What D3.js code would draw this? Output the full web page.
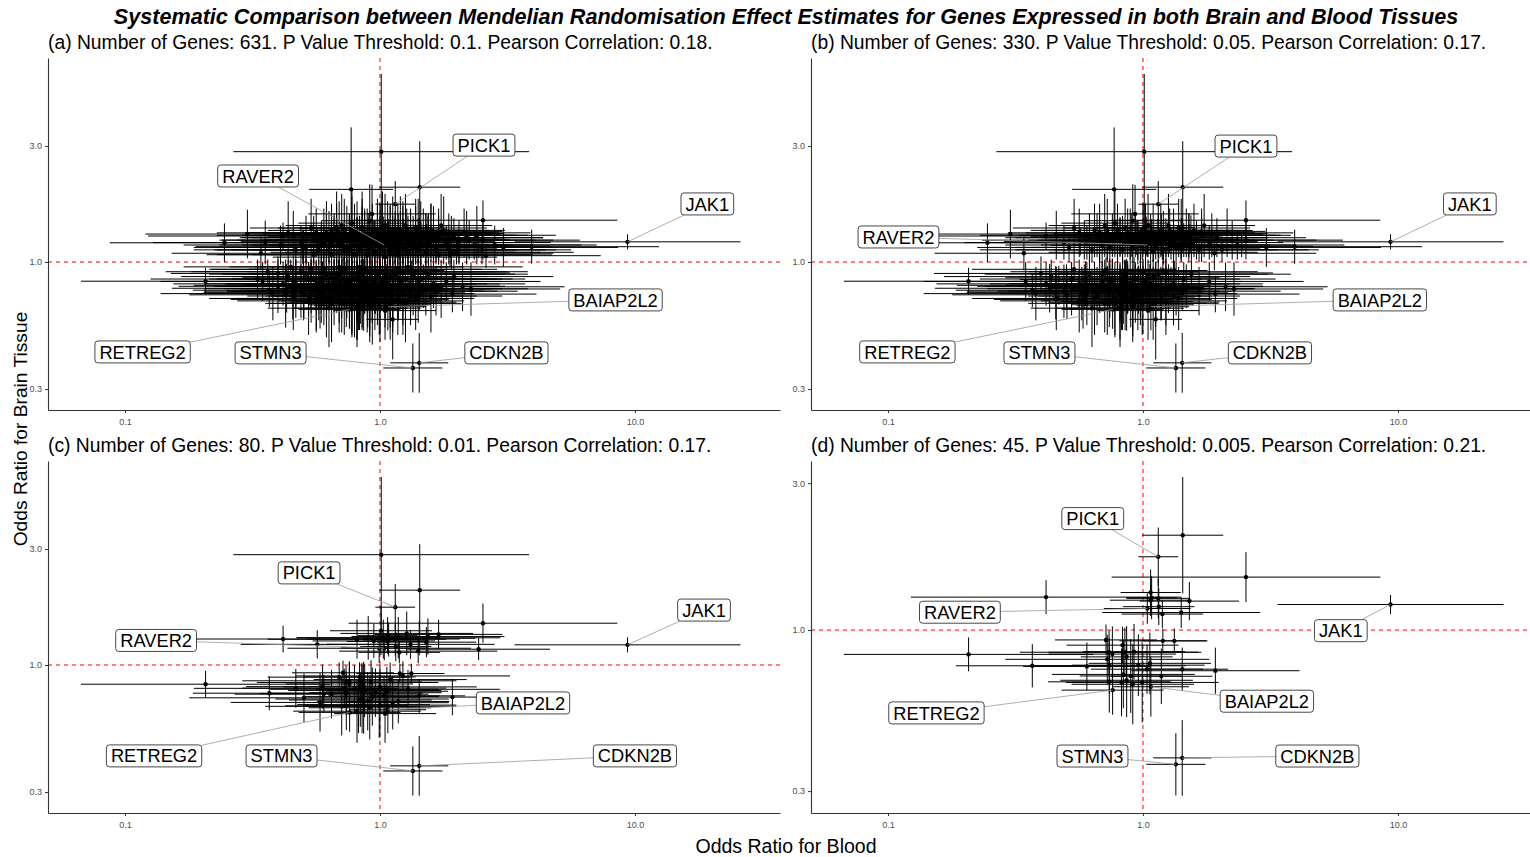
<!DOCTYPE html>
<html>
<head>
<meta charset="utf-8">
<script src="https://cdnjs.cloudflare.com/ajax/libs/d3/7.8.5/d3.min.js"></script>
<style>
  body { margin: 0; background: #fff; }
  svg { display: block; font-family: "Liberation Sans", Arial, sans-serif; }
</style>
</head>
<body>
<div id="chart"></div>
<script>
// values, as log10 odds ratios
// each row: [blood, brain, blood CI half-width, brain CI half-width]

const labelGenes = ['PICK1', 'RAVER2', 'JAK1', 'BAIAP2L2', 'RETREG2', 'STMN3', 'CDKN2B'];
const labelledValues = [
    [0.060, 0.238, 0.078, 0.095],
    [0.017, 0.070, 0.170, 0.050],
    [0.971, 0.083, 0.443, 0.031],
    [0.031, -0.184, 0.150, 0.097],
    [-0.119, -0.195, 0.200, 0.080],
    [0.129, -0.436, 0.116, 0.101],
    [0.154, -0.415, 0.114, 0.123]
];

// label box centres (log10 units) for each panel
const labelSpotA = [[0.408, 0.481], [-0.478, 0.354], [1.284, 0.239], [0.924, -0.156], [-0.931, -0.370], [-0.429, -0.374], [0.496, -0.374]];
const labelSpotB = [[0.404, 0.477], [-0.959, 0.103], [1.282, 0.239], [0.929, -0.156], [-0.924, -0.370], [-0.406, -0.374], [0.498, -0.374]];
const labelSpotC = [[-0.278, 0.379], [-0.878, 0.101], [1.271, 0.226], [0.561, -0.156], [-0.886, -0.374], [-0.386, -0.374], [1.000, -0.374]];
const labelSpotD = [[-0.197, 0.362], [-0.718, 0.058], [0.776, -0.002], [0.486, -0.231], [-0.810, -0.269], [-0.198, -0.409], [0.684, -0.409]];

// genes passing p < 0.005 (in every panel)
const genesP005 = [
    [0.156, 0.308, 0.159, 0.189], [0.404, 0.172, 0.527, 0.081], [-0.380, 0.107, 0.530, 0.055],
    [0.182, 0.094, 0.195, 0.062], [0.030, 0.122, 0.118, 0.075], [0.034, 0.105, 0.100, 0.070],
    [0.060, 0.103, 0.125, 0.065], [0.030, 0.097, 0.160, 0.050], [0.062, 0.076, 0.140, 0.060],
    [0.076, 0.052, 0.160, 0.045], [0.150, 0.057, 0.310, 0.050],
    [-0.684, -0.079, 0.489, 0.055], [-0.434, -0.116, 0.300, 0.070], [-0.220, -0.118, 0.250, 0.078],
    [-0.145, -0.032, 0.200, 0.050], [0.078, -0.035, 0.170, 0.040], [0.123, -0.035, 0.130, 0.040],
    [-0.080, -0.049, 0.220, 0.060], [-0.133, -0.072, 0.350, 0.070], [-0.120, -0.078, 0.250, 0.090],
    [-0.071, -0.072, 0.300, 0.080], [-0.064, -0.087, 0.180, 0.100], [-0.035, -0.070, 0.200, 0.090],
    [-0.140, -0.095, 0.400, 0.080], [0.027, -0.108, 0.240, 0.100], [-0.018, -0.114, 0.260, 0.100],
    [-0.132, -0.116, 0.300, 0.090], [0.016, -0.127, 0.220, 0.080], [0.154, -0.127, 0.180, 0.070],
    [0.284, -0.132, 0.330, 0.075], [-0.077, -0.144, 0.280, 0.110], [-0.048, -0.149, 0.200, 0.120],
    [0.072, -0.150, 0.200, 0.090], [-0.064, -0.163, 0.260, 0.120], [-0.132, -0.168, 0.240, 0.100],
    [-0.084, -0.170, 0.200, 0.110], [-0.040, -0.176, 0.240, 0.130], [-0.003, -0.170, 0.300, 0.130]
];

// extra genes reaching p < 0.01
const genesP01 = [
    [0.005, 0.454, 0.580, 0.320], [-0.246, 0.085, 0.300, 0.058], [0.387, 0.065, 0.280, 0.045],
    [-0.090, 0.106, 0.350, 0.080], [-0.046, 0.112, 0.280, 0.090], [-0.024, 0.099, 0.240, 0.070],
    [0.004, 0.141, 0.200, 0.100], [0.013, 0.107, 0.300, 0.080], [0.105, 0.130, 0.260, 0.090],
    [0.154, 0.110, 0.220, 0.070], [0.188, 0.117, 0.300, 0.075], [0.230, 0.126, 0.250, 0.060],
    [-0.003, 0.069, 0.360, 0.060], [0.072, 0.112, 0.400, 0.085], [0.120, 0.085, 0.330, 0.060],
    [-0.330, -0.096, 0.400, 0.080], [-0.298, -0.135, 0.450, 0.100], [-0.235, -0.154, 0.350, 0.120],
    [-0.225, -0.089, 0.300, 0.090], [-0.160, -0.050, 0.280, 0.060], [-0.120, -0.065, 0.420, 0.080],
    [-0.100, -0.100, 0.330, 0.100], [-0.060, -0.105, 0.300, 0.110], [-0.030, -0.130, 0.260, 0.120],
    [0.000, -0.090, 0.380, 0.090], [0.040, -0.060, 0.300, 0.070], [0.110, -0.100, 0.360, 0.080],
    [0.050, -0.155, 0.220, 0.110], [-0.150, -0.170, 0.300, 0.120], [-0.090, -0.190, 0.250, 0.130],
    [0.020, -0.200, 0.200, 0.120], [0.090, -0.045, 0.420, 0.060], [-0.190, -0.120, 0.380, 0.100],
    [-0.070, -0.140, 0.340, 0.140], [0.000, -0.165, 0.300, 0.130]
];

// extra genes reaching p < 0.05
const genesP05 = [
    [-0.113, 0.299, 0.165, 0.255], [-0.520, 0.115, 0.400, 0.100], [-0.610, 0.079, 0.450, 0.080],
    [-0.467, 0.036, 0.350, 0.070], [0.484, 0.060, 0.450, 0.080], [0.595, 0.063, 0.500, 0.070],
    [0.404, 0.090, 0.380, 0.080], [0.280, 0.036, 0.400, 0.070], [-0.031, 0.198, 0.250, 0.120],
    [-0.400, -0.047, 0.420, 0.070], [-0.366, -0.108, 0.450, 0.100], [-0.342, -0.126, 0.350, 0.110],
    [0.050, -0.236, 0.103, 0.165], [0.324, -0.102, 0.400, 0.100], [0.357, -0.111, 0.350, 0.110],
    [-0.14, 0.09, 0.31, 0.08], [0.07, 0.13, 0.27, 0.11], [-0.29, 0.06, 0.36, 0.06], [0.18, 0.11, 0.34, 0.09],
    [0.02, 0.15, 0.22, 0.13], [-0.08, 0.05, 0.42, 0.05], [0.26, 0.08, 0.29, 0.07], [-0.19, 0.13, 0.25, 0.11],
    [0.11, 0.07, 0.39, 0.06], [-0.03, 0.11, 0.33, 0.09], [0.33, 0.12, 0.26, 0.10], [-0.23, 0.09, 0.40, 0.08],
    [0.05, 0.06, 0.35, 0.05], [-0.11, 0.16, 0.21, 0.14], [0.14, 0.14, 0.28, 0.12], [-0.05, 0.08, 0.37, 0.07],
    [0.22, 0.05, 0.43, 0.05], [-0.34, 0.11, 0.30, 0.10], [0.09, 0.10, 0.31, 0.08], [-0.16, 0.07, 0.38, 0.06],
    [0.00, 0.13, 0.26, 0.11], [0.29, 0.10, 0.35, 0.08], [-0.07, 0.14, 0.24, 0.12], [0.16, 0.09, 0.32, 0.07],
    [-0.25, 0.12, 0.28, 0.10], [0.04, 0.04, 0.41, 0.04], [-0.12, 0.11, 0.34, 0.09], [0.20, 0.13, 0.23, 0.11],
    [-0.01, 0.07, 0.39, 0.07], [0.37, 0.07, 0.42, 0.06], [-0.20, 0.05, 0.44, 0.05], [0.12, 0.12, 0.29, 0.10],
    [-0.09, 0.10, 0.30, 0.08], [0.24, 0.15, 0.20, 0.13], [-0.04, 0.17, 0.19, 0.15], [0.08, 0.08, 0.36, 0.07],
    [-0.17, 0.10, 0.33, 0.09], [0.31, 0.05, 0.38, 0.05], [-0.02, 0.09, 0.35, 0.08], [0.13, 0.06, 0.40, 0.06],
    [-0.27, 0.14, 0.24, 0.12], [0.06, 0.11, 0.32, 0.09], [-0.13, 0.06, 0.37, 0.06], [0.19, 0.07, 0.41, 0.06],
    [0.01, 0.10, 0.30, 0.09], [-0.22, 0.08, 0.35, 0.07], [0.10, 0.15, 0.24, 0.13], [-0.06, 0.12, 0.29, 0.10],
    [0.27, 0.11, 0.31, 0.09], [0.03, 0.08, 0.38, 0.07], [-0.10, 0.13, 0.27, 0.11], [0.15, 0.10, 0.34, 0.08],
    [-0.31, 0.08, 0.39, 0.07], [0.21, 0.09, 0.30, 0.08], [-0.15, 0.15, 0.22, 0.13], [0.09, 0.05, 0.44, 0.05],
    [-0.04, 0.06, 0.40, 0.06], [0.35, 0.09, 0.33, 0.08], [-0.18, 0.11, 0.31, 0.09], [0.17, 0.12, 0.27, 0.10],
    [-0.10, 0.10, 0.30, 0.10], [0.04, 0.12, 0.28, 0.12], [-0.17, 0.12, 0.29, 0.12], [0.12, 0.09, 0.32, 0.10],
    [-0.05, 0.11, 0.31, 0.11], [0.08, 0.10, 0.27, 0.11], [-0.21, 0.10, 0.33, 0.10], [0.18, 0.10, 0.30, 0.10],
    [-0.02, 0.08, 0.34, 0.09], [0.01, 0.12, 0.29, 0.12], [-0.14, 0.13, 0.26, 0.13], [0.23, 0.11, 0.31, 0.11],
    [-0.08, 0.09, 0.33, 0.10], [0.06, 0.09, 0.36, 0.09], [0.15, 0.13, 0.27, 0.13],
    [-0.12, -0.08, 0.33, 0.09], [-0.31, -0.12, 0.38, 0.11], [0.05, -0.10, 0.30, 0.10], [-0.21, -0.05, 0.41, 0.06],
    [-0.02, -0.15, 0.26, 0.13], [0.16, -0.07, 0.36, 0.07], [-0.38, -0.09, 0.43, 0.09], [-0.09, -0.13, 0.29, 0.12],
    [0.09, -0.16, 0.24, 0.14], [-0.25, -0.16, 0.31, 0.13], [-0.15, -0.04, 0.37, 0.05], [0.02, -0.06, 0.40, 0.07],
    [-0.06, -0.11, 0.34, 0.10], [0.22, -0.12, 0.32, 0.10], [-0.28, -0.07, 0.36, 0.07], [-0.18, -0.14, 0.27, 0.12],
    [-0.04, -0.18, 0.22, 0.15], [0.12, -0.09, 0.35, 0.09], [-0.42, -0.13, 0.44, 0.11], [-0.11, -0.17, 0.25, 0.14],
    [0.07, -0.13, 0.28, 0.11], [-0.23, -0.10, 0.39, 0.09], [-0.07, -0.06, 0.42, 0.06], [0.26, -0.08, 0.37, 0.08],
    [-0.34, -0.15, 0.33, 0.13], [-0.01, -0.12, 0.31, 0.11], [-0.16, -0.08, 0.35, 0.08], [0.14, -0.15, 0.23, 0.13],
    [-0.20, -0.19, 0.24, 0.16], [0.00, -0.04, 0.45, 0.05], [-0.10, -0.10, 0.38, 0.09], [-0.27, -0.03, 0.40, 0.05],
    [0.04, -0.17, 0.21, 0.15], [-0.13, -0.12, 0.30, 0.11], [0.19, -0.05, 0.39, 0.06], [-0.36, -0.06, 0.42, 0.07],
    [-0.05, -0.09, 0.36, 0.09], [0.10, -0.11, 0.33, 0.10], [-0.19, -0.12, 0.34, 0.10], [-0.08, -0.15, 0.27, 0.13],
    [0.01, -0.08, 0.38, 0.08], [-0.30, -0.10, 0.35, 0.09], [-0.14, -0.16, 0.26, 0.14], [0.17, -0.10, 0.30, 0.09],
    [-0.03, -0.07, 0.41, 0.07], [-0.24, -0.13, 0.32, 0.11], [0.06, -0.05, 0.43, 0.06], [-0.46, -0.08, 0.40, 0.08],
    [-0.09, -0.19, 0.20, 0.16], [0.12, -0.14, 0.26, 0.12],
    [-0.09, -0.12, 0.30, 0.12], [-0.17, -0.10, 0.32, 0.11], [0.03, -0.09, 0.31, 0.10], [-0.22, -0.13, 0.29, 0.13],
    [-0.04, -0.14, 0.27, 0.14], [-0.13, -0.09, 0.34, 0.10], [0.09, -0.13, 0.28, 0.13], [-0.28, -0.11, 0.33, 0.11],
    [-0.07, -0.08, 0.36, 0.09], [-0.19, -0.15, 0.26, 0.15], [0.13, -0.11, 0.31, 0.11], [-0.01, -0.13, 0.29, 0.13],
    [-0.11, -0.15, 0.27, 0.15], [-0.25, -0.09, 0.35, 0.10], [0.05, -0.12, 0.30, 0.12]
];

// extra genes reaching p < 0.1
const genesP1 = [
    [0.416, 0.026, 0.45, 0.05], [0.275, 0.029, 0.40, 0.05], [-0.303, 0.063, 0.42, 0.07],
    [-0.05, 0.03, 0.38, 0.04], [0.11, 0.04, 0.42, 0.05], [-0.19, 0.03, 0.45, 0.04], [0.23, 0.03, 0.37, 0.04],
    [0.02, 0.02, 0.44, 0.03], [-0.33, 0.05, 0.40, 0.06], [0.30, 0.04, 0.46, 0.05], [-0.12, 0.05, 0.36, 0.06],
    [0.07, 0.03, 0.34, 0.04], [-0.26, 0.03, 0.42, 0.04], [0.15, 0.05, 0.39, 0.06], [-0.02, 0.04, 0.41, 0.05],
    [0.40, 0.05, 0.35, 0.06], [-0.39, 0.07, 0.38, 0.08], [0.04, 0.07, 0.33, 0.08], [-0.08, 0.09, 0.36, 0.10],
    [0.19, 0.08, 0.32, 0.09], [-0.16, 0.12, 0.30, 0.13], [0.12, 0.10, 0.35, 0.11], [-0.23, 0.07, 0.40, 0.08],
    [0.27, 0.06, 0.41, 0.07], [-0.01, 0.11, 0.29, 0.12], [0.08, 0.13, 0.26, 0.14], [-0.11, 0.08, 0.39, 0.09],
    [0.34, 0.10, 0.30, 0.11], [-0.29, 0.09, 0.33, 0.10], [0.00, 0.06, 0.43, 0.07], [0.21, 0.11, 0.27, 0.12],
    [-0.07, 0.14, 0.25, 0.15], [0.14, 0.07, 0.38, 0.08], [-0.20, 0.10, 0.35, 0.11], [0.05, 0.09, 0.37, 0.10],
    [-0.14, 0.05, 0.44, 0.06], [0.25, 0.13, 0.24, 0.14], [-0.04, 0.10, 0.32, 0.11], [0.10, 0.06, 0.40, 0.07],
    [-0.36, 0.12, 0.28, 0.13], [0.18, 0.04, 0.45, 0.05], [-0.09, 0.12, 0.31, 0.13], [0.03, 0.12, 0.28, 0.13],
    [-0.24, 0.05, 0.41, 0.06], [0.31, 0.08, 0.36, 0.09], [-0.17, 0.14, 0.23, 0.15], [0.06, 0.05, 0.42, 0.06],
    [-0.06, 0.07, 0.37, 0.08], [0.16, 0.12, 0.29, 0.13], [-0.30, 0.06, 0.43, 0.07], [0.38, 0.11, 0.31, 0.12],
    [-0.10, 0.03, 0.40, 0.04], [0.09, 0.11, 0.33, 0.12], [-0.21, 0.12, 0.30, 0.13], [0.01, 0.14, 0.24, 0.15],
    [0.22, 0.06, 0.39, 0.07], [-0.45, 0.08, 0.44, 0.09], [0.45, 0.07, 0.40, 0.08],
    [-0.18, 0.09, 0.28, 0.10], [0.06, 0.10, 0.30, 0.11], [-0.03, 0.12, 0.26, 0.12], [0.13, 0.09, 0.33, 0.10],
    [-0.09, 0.07, 0.35, 0.08], [0.02, 0.08, 0.29, 0.09], [-0.13, 0.11, 0.27, 0.12], [0.19, 0.10, 0.31, 0.10],
    [-0.06, 0.10, 0.30, 0.11], [0.09, 0.12, 0.28, 0.13], [-0.22, 0.11, 0.32, 0.11], [0.00, 0.09, 0.34, 0.10],
    [0.16, 0.08, 0.30, 0.09], [-0.11, 0.13, 0.25, 0.14], [0.04, 0.11, 0.27, 0.12], [-0.15, 0.08, 0.36, 0.09],
    [0.11, 0.09, 0.29, 0.10], [-0.01, 0.13, 0.30, 0.13], [0.23, 0.09, 0.28, 0.10], [-0.07, 0.11, 0.33, 0.12],
    [0.07, 0.07, 0.37, 0.08], [-0.19, 0.07, 0.31, 0.08], [0.14, 0.11, 0.26, 0.12], [-0.04, 0.08, 0.32, 0.09],
    [0.01, 0.10, 0.25, 0.11], [-0.26, 0.09, 0.30, 0.10], [0.20, 0.12, 0.27, 0.12], [-0.12, 0.09, 0.34, 0.10],
    [0.05, 0.13, 0.30, 0.14], [0.28, 0.09, 0.33, 0.10],
    [-0.08, -0.02, 0.41, 0.03], [-0.22, -0.03, 0.44, 0.04], [0.07, -0.03, 0.39, 0.04], [-0.35, -0.02, 0.42, 0.03],
    [0.18, -0.04, 0.40, 0.05], [-0.14, -0.03, 0.37, 0.04], [-0.01, -0.05, 0.43, 0.06], [-0.29, -0.05, 0.38, 0.06],
    [0.11, -0.02, 0.45, 0.03], [-0.44, -0.04, 0.40, 0.05], [-0.05, -0.07, 0.35, 0.08], [-0.18, -0.08, 0.39, 0.09],
    [0.03, -0.09, 0.34, 0.10], [-0.33, -0.11, 0.36, 0.12], [0.15, -0.12, 0.31, 0.13], [-0.11, -0.14, 0.28, 0.15],
    [-0.26, -0.07, 0.41, 0.08], [0.08, -0.07, 0.38, 0.08], [-0.02, -0.10, 0.33, 0.11], [-0.40, -0.10, 0.39, 0.11],
    [-0.15, -0.11, 0.32, 0.12], [0.21, -0.09, 0.36, 0.10], [-0.07, -0.13, 0.30, 0.14], [-0.21, -0.15, 0.27, 0.16],
    [0.05, -0.14, 0.27, 0.15], [-0.31, -0.04, 0.43, 0.05], [0.13, -0.05, 0.40, 0.06], [-0.09, -0.05, 0.42, 0.06],
    [-0.24, -0.09, 0.37, 0.10], [0.00, -0.16, 0.24, 0.17], [-0.17, -0.06, 0.38, 0.07], [0.24, -0.11, 0.34, 0.12],
    [-0.12, -0.10, 0.35, 0.11], [-0.37, -0.13, 0.35, 0.14], [0.10, -0.17, 0.22, 0.16], [-0.04, -0.12, 0.31, 0.13],
    [-0.27, -0.12, 0.33, 0.13], [0.16, -0.07, 0.41, 0.08], [-0.19, -0.17, 0.24, 0.16], [-0.06, -0.03, 0.46, 0.04],
    [0.04, -0.11, 0.36, 0.12], [-0.13, -0.07, 0.40, 0.08], [-0.48, -0.07, 0.42, 0.08], [0.29, -0.06, 0.39, 0.07],
    [-0.10, -0.16, 0.26, 0.15], [-0.23, -0.12, 0.30, 0.13], [0.02, -0.13, 0.29, 0.14], [-0.16, -0.02, 0.43, 0.03],
    [0.12, -0.10, 0.37, 0.11], [-0.03, -0.18, 0.21, 0.16], [-0.34, -0.08, 0.40, 0.09], [0.20, -0.14, 0.28, 0.15],
    [-0.08, -0.09, 0.38, 0.10], [-0.28, -0.15, 0.29, 0.15], [0.06, -0.04, 0.44, 0.05],
    [-0.10, -0.07, 0.31, 0.09], [-0.20, -0.09, 0.33, 0.10], [0.02, -0.11, 0.28, 0.12], [-0.06, -0.09, 0.30, 0.11],
    [-0.16, -0.12, 0.29, 0.13], [-0.27, -0.10, 0.32, 0.11], [0.08, -0.09, 0.34, 0.10], [-0.12, -0.13, 0.27, 0.14],
    [-0.02, -0.08, 0.33, 0.09], [-0.23, -0.07, 0.35, 0.09], [0.12, -0.12, 0.29, 0.12], [-0.08, -0.11, 0.31, 0.12],
    [-0.30, -0.12, 0.30, 0.12], [-0.14, -0.09, 0.36, 0.10], [0.04, -0.13, 0.26, 0.14], [-0.18, -0.10, 0.31, 0.11],
    [-0.05, -0.14, 0.28, 0.15], [0.15, -0.08, 0.33, 0.09], [-0.25, -0.14, 0.27, 0.14], [-0.11, -0.06, 0.37, 0.08],
    [0.00, -0.10, 0.30, 0.11], [-0.21, -0.11, 0.34, 0.12], [0.07, -0.15, 0.25, 0.15], [-0.16, -0.14, 0.27, 0.15],
    [-0.33, -0.09, 0.36, 0.10], [-0.03, -0.12, 0.29, 0.13], [0.10, -0.07, 0.38, 0.08], [-0.09, -0.16, 0.24, 0.16],
    [-0.19, -0.06, 0.39, 0.07], [0.18, -0.11, 0.30, 0.11]
];

const panelTags = ['a', 'b', 'c', 'd'];
const geneCounts = [631, 330, 80, 45];
const pThresholds = ['0.1', '0.05', '0.01', '0.005'];
const correlations = ['0.18', '0.17', '0.17', '0.21'];

const xTicks = [0.1, 1, 10];
const yTicks = [0.3, 1, 3];
const bloodDomainLog = [-1.302, 1.569];
const brainDomainsLog = [[-0.609, 0.8395], [-0.609, 0.8395], [-0.609, 0.8395], [-0.594, 0.549]];

//---------------------------------//
// layout                          //
//---------------------------------//
const W = 1530, H = 857;
const panelLeft = [48, 811, 48, 811];
const panelTop = [58, 58, 461, 461];
const panelW = 732, panelH = 352;

const svg = d3.select('#chart').append('svg')
    .attr('width', W).attr('height', H);
svg.append('rect').attr('width', W).attr('height', H).attr('fill', '#fff');

svg.append('text')
    .attr('x', 786).attr('y', 24)
    .attr('text-anchor', 'middle')
    .attr('font-size', '21.6px')
    .attr('font-weight', 'bold')
    .attr('font-style', 'italic')
    .text('Systematic Comparison between Mendelian Randomisation Effect Estimates for Genes Expressed in both Brain and Blood Tissues');

svg.append('text')
    .attr('x', 786).attr('y', 853)
    .attr('text-anchor', 'middle')
    .attr('font-size', '19.5px')
    .text('Odds Ratio for Blood');

svg.append('text')
    .attr('transform', 'translate(27,429) rotate(-90)')
    .attr('text-anchor', 'middle')
    .attr('font-size', '19.2px')
    .text('Odds Ratio for Brain Tissue');

const tiers = [genesP005, genesP01, genesP05, genesP1];
const labelSpots = [labelSpotA, labelSpotB, labelSpotC, labelSpotD];

function asOdds(row) {
    return {
        x: Math.pow(10, row[0]), xlo: Math.pow(10, row[0] - row[2]), xhi: Math.pow(10, row[0] + row[2]),
        y: Math.pow(10, row[1]), ylo: Math.pow(10, row[1] - row[3]), yhi: Math.pow(10, row[1] + row[3])
    };
}

panelTags.forEach(function(tag, i) {
    const left = panelLeft[i], top = panelTop[i];

    const x = d3.scaleLog()
        .domain(bloodDomainLog.map(function(d) { return Math.pow(10, d); }))
        .range([0, panelW]);
    const y = d3.scaleLog()
        .domain(brainDomainsLog[i].map(function(d) { return Math.pow(10, d); }))
        .range([panelH, 0]);

    const g = svg.append('g').attr('transform', 'translate(' + left + ',' + top + ')');

    svg.append('text')
        .attr('x', left).attr('y', top - 9)
        .attr('font-size', '19.3px')
        .text('(' + tag + ') Number of Genes: ' + geneCounts[i] + '. P Value Threshold: ' + pThresholds[i] +
              '. Pearson Correlation: ' + correlations[i] + '.');

    g.append('clipPath').attr('id', 'clip-' + tag)
        .append('rect').attr('width', panelW).attr('height', panelH);

    const plot = g.append('g').attr('clip-path', 'url(#clip-' + tag + ')');

    // genes in this panel: everything up to its p value threshold
    let rows = [];
    for (let t = 0; t < 4 - i; t++) rows = rows.concat(tiers[t]);
    rows = rows.concat(labelledValues);
    const pts = rows.map(asOdds);

    // reference lines at OR = 1
    plot.append('line')
        .attr('x1', 0).attr('x2', panelW)
        .attr('y1', y(1)).attr('y2', y(1))
        .attr('stroke', 'red').attr('stroke-width', 1).attr('stroke-dasharray', '4,4');
    plot.append('line')
        .attr('x1', x(1)).attr('x2', x(1))
        .attr('y1', 0).attr('y2', panelH)
        .attr('stroke', 'red').attr('stroke-width', 1).attr('stroke-dasharray', '4,4');

    plot.append('g').selectAll('line').data(pts).join('line')
        .attr('x1', function(d) { return x(d.x); }).attr('x2', function(d) { return x(d.x); })
        .attr('y1', function(d) { return y(d.ylo); }).attr('y2', function(d) { return y(d.yhi); })
        .attr('stroke', '#000').attr('stroke-width', 1);

    plot.append('g').selectAll('line').data(pts).join('line')
        .attr('x1', function(d) { return x(d.xlo); }).attr('x2', function(d) { return x(d.xhi); })
        .attr('y1', function(d) { return y(d.y); }).attr('y2', function(d) { return y(d.y); })
        .attr('stroke', '#000').attr('stroke-width', 1);

    plot.append('g').selectAll('circle').data(pts).join('circle')
        .attr('cx', function(d) { return x(d.x); })
        .attr('cy', function(d) { return y(d.y); })
        .attr('r', 2.2)
        .attr('fill', '#000');

    // axes
    const xAxis = g.append('g').attr('transform', 'translate(0,' + panelH + ')')
        .call(d3.axisBottom(x).tickValues(xTicks).tickFormat(d3.format('.1f')).tickSize(3).tickSizeOuter(0));
    const yAxis = g.append('g')
        .call(d3.axisLeft(y).tickValues(yTicks).tickFormat(d3.format('.1f')).tickSize(3).tickSizeOuter(0));
    [xAxis, yAxis].forEach(function(ax) {
        ax.select('.domain').attr('stroke', '#333').attr('stroke-width', 1.1);
        ax.selectAll('.tick line').attr('stroke', '#333');
        ax.selectAll('.tick text').attr('fill', '#4d4d4d').attr('font-size', '9px')
            .attr('font-family', '"Liberation Sans", Arial, sans-serif');
    });
    xAxis.selectAll('.tick text').attr('dy', '0.95em');

    // gene labels with leader segments
    const labelLayer = g.append('g');
    labelGenes.forEach(function(name, k) {
        const p = asOdds(labelledValues[k]);
        const px = x(p.x), py = y(p.y);
        const cx = x(Math.pow(10, labelSpots[i][k][0]));
        const cy = y(Math.pow(10, labelSpots[i][k][1]));

        const grp = labelLayer.append('g');
        const seg = grp.append('line');
        const box = grp.append('rect');
        const txt = grp.append('text')
            .attr('x', cx).attr('y', cy)
            .attr('dy', '0.36em')
            .attr('text-anchor', 'middle')
            .attr('font-size', '18.3px')
            .text(name);
        const tw = txt.node().getComputedTextLength();
        const bw = tw + 9, bh = 22;
        box.attr('x', cx - bw / 2).attr('y', cy - bh / 2)
            .attr('width', bw).attr('height', bh)
            .attr('rx', 3).attr('ry', 3)
            .attr('fill', '#fff').attr('stroke', '#333').attr('stroke-width', 0.9);

        const dx = px - cx, dy = py - cy;
        const t = Math.min(Math.abs(dx) > 0 ? (bw / 2) / Math.abs(dx) : Infinity,
                           Math.abs(dy) > 0 ? (bh / 2) / Math.abs(dy) : Infinity);
        if (t < 1) {
            seg.attr('x1', cx + dx * t).attr('y1', cy + dy * t)
                .attr('x2', px).attr('y2', py)
                .attr('stroke', '#999').attr('stroke-width', 0.8);
        }
    });
});
</script>
</body>
</html>
